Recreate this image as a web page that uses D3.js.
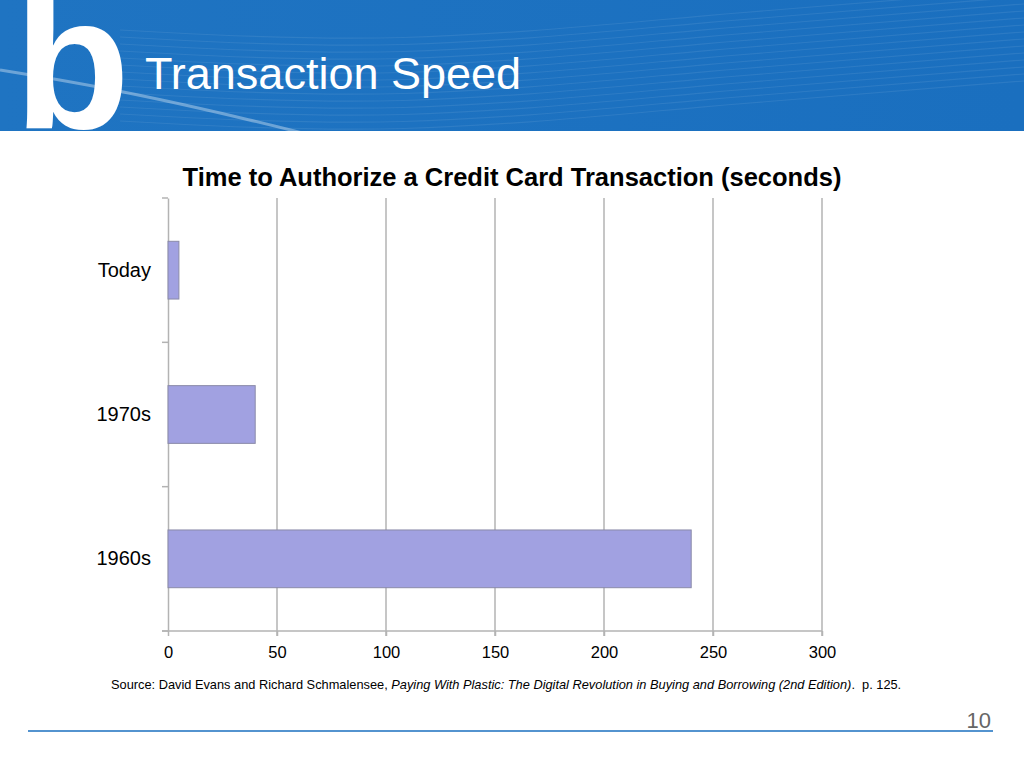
<!DOCTYPE html>
<html>
<head>
<meta charset="utf-8">
<script src="https://cdn.jsdelivr.net/npm/d3@7"></script>
<style>
  body { margin: 0; background: #fff; }
  svg { display: block; font-family: "Liberation Sans", Arial, sans-serif; }
</style>
</head>
<body>
<svg id="grafico"></svg>
<script>
// Dados
const categorias = ["Today", "1970s", "1960s"];
const segundos = [5, 40, 240];
const ticksX = [0, 50, 100, 150, 200, 250, 300];

const largura = 1024;
const altura = 768;
const margem = { top: 198, right: 202, bottom: 137, left: 168 };

const svg = d3.select("#grafico")
  .attr("width", largura)
  .attr("height", altura);

// Faixa do cabeçalho
const defs = svg.append("defs");
const grad = defs.append("linearGradient").attr("id", "fundo")
  .attr("x1", 0).attr("y1", 0).attr("x2", 1).attr("y2", 0);
grad.append("stop").attr("offset", "0%").attr("stop-color", "#1f74c2");
grad.append("stop").attr("offset", "100%").attr("stop-color", "#1a6fbf");

svg.append("rect")
  .attr("x", 0).attr("y", 0)
  .attr("width", largura).attr("height", 131)
  .attr("fill", "url(#fundo)");

// linhas onduladas decorativas
const onda = d3.line().curve(d3.curveBasis);
defs.append("clipPath").attr("id", "corte")
  .append("rect").attr("width", largura).attr("height", 131);
const ondas = svg.append("g").attr("clip-path", "url(#corte)");
for (let i = 0; i < 14; i++) {
  const y0 = 20 + i * 7;
  ondas.append("path")
    .attr("d", onda([[120, y0 + 10], [400, y0 + 25], [700, y0 - 5], [1024, y0 - 30]]))
    .attr("fill", "none")
    .attr("stroke", "#ffffff")
    .attr("stroke-opacity", 0.08)
    .attr("stroke-width", 1.2);
}
ondas.append("path")
  .attr("d", onda([[0, 70], [120, 90], [260, 122], [330, 140]]))
  .attr("fill", "none")
  .attr("stroke", "#ffffff")
  .attr("stroke-opacity", 0.35)
  .attr("stroke-width", 3);

// letra "b" gigante (cortada pela faixa, como no original)
svg.append("g").attr("clip-path", "url(#corte)")
  .append("text")
  .attr("x", 14).attr("y", 128)
  .attr("fill", "#ffffff")
  .attr("font-size", 190)
  .attr("font-weight", "bold")
  .text("b");

svg.append("text")
  .attr("x", 145).attr("y", 89)
  .attr("fill", "#ffffff")
  .attr("font-size", 45)
  .text("Transaction Speed");

// Escalas
const x = d3.scaleLinear()
  .domain([0, 300])
  .range([margem.left, largura - margem.right]);

const y = d3.scaleBand()
  .domain(categorias)
  .range([margem.top, altura - margem.bottom])
  .paddingInner(0.6)
  .paddingOuter(0.3);

// Grade vertical
svg.append("g")
  .selectAll("line")
  .data(ticksX.slice(1))
  .join("line")
  .attr("x1", d => x(d)).attr("x2", d => x(d))
  .attr("y1", margem.top).attr("y2", altura - margem.bottom + 5)
  .attr("stroke", "#b3b3b3")
  .attr("stroke-width", 1.5);

// Eixo Y
const eixoY = svg.append("g")
  .attr("transform", `translate(${margem.left}, 0)`)
  .call(d3.axisLeft(y).tickSize(0).tickPadding(17).tickSizeOuter(0));
eixoY.select(".domain").attr("stroke", "#b3b3b3").attr("stroke-width", 1.5);
eixoY.selectAll("text")
  .attr("font-size", 20)
  .attr("fill", "#000")
  .attr("font-family", "Liberation Sans, Arial, sans-serif");

// marcas entre categorias no eixo Y
const passo = y.step();
const fronteiras = [margem.top, ...categorias.slice(1).map(c => y(c) - y.paddingInner() * passo / 2), altura - margem.bottom];
svg.append("g")
  .selectAll("line")
  .data(fronteiras)
  .join("line")
  .attr("x1", margem.left - 6).attr("x2", margem.left)
  .attr("y1", d => d).attr("y2", d => d)
  .attr("stroke", "#b3b3b3")
  .attr("stroke-width", 1.5);

// Eixo X
const eixoX = svg.append("g")
  .attr("transform", `translate(0, ${altura - margem.bottom})`)
  .call(d3.axisBottom(x).tickValues(ticksX).tickSize(5).tickPadding(10).tickSizeOuter(0));
eixoX.select(".domain").attr("stroke", "#b3b3b3").attr("stroke-width", 1.5)
  .attr("d", `M${margem.left - 6},0H${x(300)}`);
eixoX.selectAll(".tick line").attr("stroke", "#b3b3b3").attr("stroke-width", 1.5);
eixoX.selectAll("text")
  .attr("font-size", 16.5)
  .attr("fill", "#000")
  .attr("font-family", "Liberation Sans, Arial, sans-serif");

// Barras
svg.append("g")
  .selectAll("rect")
  .data(categorias)
  .join("rect")
  .attr("x", x(0))
  .attr("y", d => y(d))
  .attr("width", (d, i) => x(segundos[i]) - x(0))
  .attr("height", y.bandwidth())
  .attr("fill", "#a1a1e1")
  .attr("stroke", "#8a8aa8")
  .attr("stroke-width", 1);

// Título do gráfico
svg.append("text")
  .attr("x", 512).attr("y", 186)
  .attr("text-anchor", "middle")
  .attr("font-size", 25.5)
  .attr("font-weight", "bold")
  .attr("fill", "#000")
  .text("Time to Authorize a Credit Card Transaction (seconds)");

// Fonte
const fonte = svg.append("text")
  .attr("x", 111).attr("y", 689)
  .attr("font-size", 12.8)
  .attr("fill", "#000")
  .style("white-space", "pre");
fonte.append("tspan").text("Source: David Evans and Richard Schmalensee, ");
fonte.append("tspan").attr("font-style", "italic")
  .text("Paying With Plastic: The Digital Revolution in Buying and Borrowing (2nd Edition)");
fonte.append("tspan").text(".  p. 125.");

// Rodapé
svg.append("line")
  .attr("x1", 28).attr("x2", 993)
  .attr("y1", 731).attr("y2", 731)
  .attr("stroke", "#1a6fbf")
  .attr("stroke-width", 1.5);

svg.append("text")
  .attr("x", 991).attr("y", 728)
  .attr("text-anchor", "end")
  .attr("font-size", 22)
  .attr("fill", "#666")
  .text("10");
</script>
</body>
</html>
